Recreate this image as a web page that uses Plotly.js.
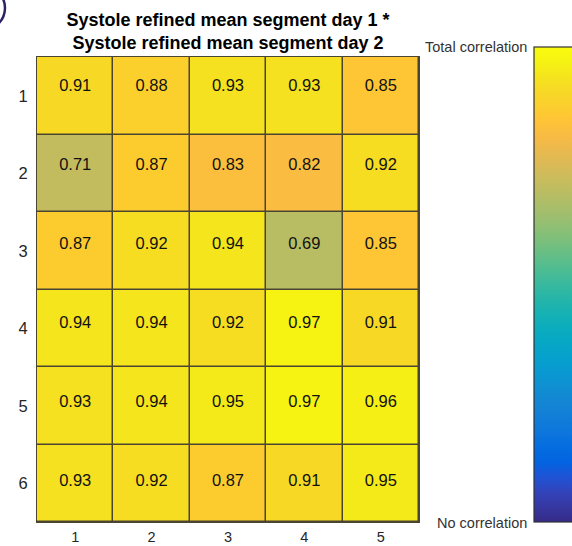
<!DOCTYPE html>
<html>
<head>
<meta charset="utf-8">
<script src="https://cdn.plot.ly/plotly-3.0.1.min.js"></script>
<style>html,body{margin:0;padding:0;background:#fff;}#chart{width:572px;height:546px;}</style>
</head>
<body>
<div id="chart"></div>
<script>
// Segment indices
const columns = [1, 2, 3, 4, 5];
const rows = [1, 2, 3, 4, 5, 6];
// Correlation values, one array per row (row 1 at top)
const row1 = [0.91, 0.88, 0.93, 0.93, 0.85];
const row2 = [0.71, 0.87, 0.83, 0.82, 0.92];
const row3 = [0.87, 0.92, 0.94, 0.69, 0.85];
const row4 = [0.94, 0.94, 0.92, 0.97, 0.91];
const row5 = [0.93, 0.94, 0.95, 0.97, 0.96];
const row6 = [0.93, 0.92, 0.87, 0.91, 0.95];
const zValues = [row1, row2, row3, row4, row5, row6];
const titleLines = ["Systole refined mean segment day 1 *", "Systole refined mean segment day 2"];
const cbTopLabel = "Total correlation";
const cbBottomLabel = "No correlation";

// MATLAB parula colormap (sampled)
const parulaRGB = [
[0.2081,0.1663,0.5292],[0.2123,0.2138,0.6270],[0.1959,0.2645,0.7279],[0.1253,0.3242,0.8303],
[0.0117,0.3875,0.8820],[0.0165,0.4266,0.8786],[0.0498,0.4586,0.8641],[0.0723,0.4887,0.8467],
[0.0793,0.5200,0.8312],[0.0641,0.5570,0.8240],[0.0343,0.5966,0.8199],[0.0239,0.6287,0.8038],
[0.0228,0.6535,0.7768],[0.0384,0.6743,0.7436],[0.0843,0.6928,0.7062],[0.1453,0.7098,0.6646],
[0.2178,0.7250,0.6193],[0.3022,0.7376,0.5712],[0.3953,0.7459,0.5244],[0.4871,0.7491,0.4840],
[0.5709,0.7485,0.4494],[0.6473,0.7456,0.4188],[0.7184,0.7411,0.3905],[0.7858,0.7356,0.3633],
[0.8507,0.7299,0.3360],[0.9139,0.7258,0.3063],[0.9739,0.7314,0.2666],[0.9990,0.7653,0.2164],
[0.9880,0.8066,0.1794],[0.9697,0.8481,0.1475],[0.9589,0.8949,0.1132],[0.9661,0.9514,0.0755],
[0.9763,0.9831,0.0538]];
const parula = parulaRGB.map((c, i) => [i / (parulaRGB.length - 1),
  'rgb(' + c.map(v => Math.round(v * 255)).join(',') + ')']);

const lineCol = '#4a4530';

const heat = {
  type: 'heatmap',
  x: columns,
  y: rows,
  z: zValues,
  zmin: 0,
  zmax: 1,
  colorscale: parula,
  xgap: 1.5,
  ygap: 1.5,
  hoverinfo: 'skip',
  colorbar: {
    x: 1.301, xanchor: 'left', xpad: 0,
    y: 0, yanchor: 'bottom', ypad: 0,
    len: 1.022, lenmode: 'fraction',
    thickness: 60, thicknessmode: 'pixels',
    outlinewidth: 1.2, outlinecolor: '#333',
    showticklabels: false, ticks: ''
  }
};

// Cell value labels (placed on an overlaid axis, as the original's labels sit slightly high)
const tx = [], ty = [], tt = [];
rows.forEach((r, i) => columns.forEach((c, j) => {
  tx.push(c); ty.push(r); tt.push(zValues[i][j].toFixed(2));
}));
const labels = {
  type: 'scatter', mode: 'text',
  x: tx, y: ty, text: tt, yaxis: 'y2',
  textposition: 'middle center',
  textfont: {family: 'Liberation Sans, Arial, sans-serif', size: 16.5, color: '#111'},
  hoverinfo: 'skip', showlegend: false
};

const layout = {
  width: 572, height: 546,
  margin: {l: 37, r: 153, t: 57, b: 24, autoexpand: false},
  paper_bgcolor: '#fff',
  plot_bgcolor: lineCol,
  showlegend: false,
  font: {family: 'Liberation Sans, Arial, sans-serif', color: '#262626'},
  title: {
    text: '<b>' + titleLines.join('<br>') + '</b>',
    font: {size: 18, color: '#000'},
    x: 0.3986, xanchor: 'center',
    y: 0.953, yanchor: 'middle'
  },
  xaxis: {
    tickvals: columns, range: [0.5, 5.5],
    showgrid: false, zeroline: false,
    showline: true, mirror: true, linecolor: lineCol, linewidth: 1,
    ticks: '', ticklabelstandoff: 2,
    tickfont: {size: 14.5, color: '#262626'},
    automargin: false, fixedrange: true
  },
  yaxis: {
    tickvals: rows, range: [6.5, 0.5],
    showgrid: false, zeroline: false,
    showline: true, mirror: true, linecolor: lineCol, linewidth: 1,
    ticks: '', ticklabelstandoff: 5,
    tickfont: {size: 16.5, color: '#262626'},
    automargin: false, fixedrange: true
  },
  yaxis2: {
    overlaying: 'y', range: [6.506, 0.620],
    showticklabels: false, showgrid: false, zeroline: false, showline: false,
    ticks: '', fixedrange: true
  },
  annotations: [
    {text: cbTopLabel, xref: 'paper', yref: 'paper', x: 1.287, y: 1.022,
     xanchor: 'right', yanchor: 'middle', showarrow: false,
     font: {size: 14.5, color: '#333'}},
    {text: cbBottomLabel, xref: 'paper', yref: 'paper', x: 1.287, y: -0.002,
     xanchor: 'right', yanchor: 'middle', showarrow: false,
     font: {size: 14.5, color: '#333'}}
  ],
  shapes: [
    {type: 'circle', xref: 'paper', yref: 'paper',
     x0: -0.188, x1: -0.0838, y0: 1.06, y1: 1.1505,
     line: {color: '#2a2466', width: 2.5}}
  ]
};

Plotly.newPlot('chart', [heat, labels], layout, {displayModeBar: false, staticPlot: true});
</script>
</body>
</html>
